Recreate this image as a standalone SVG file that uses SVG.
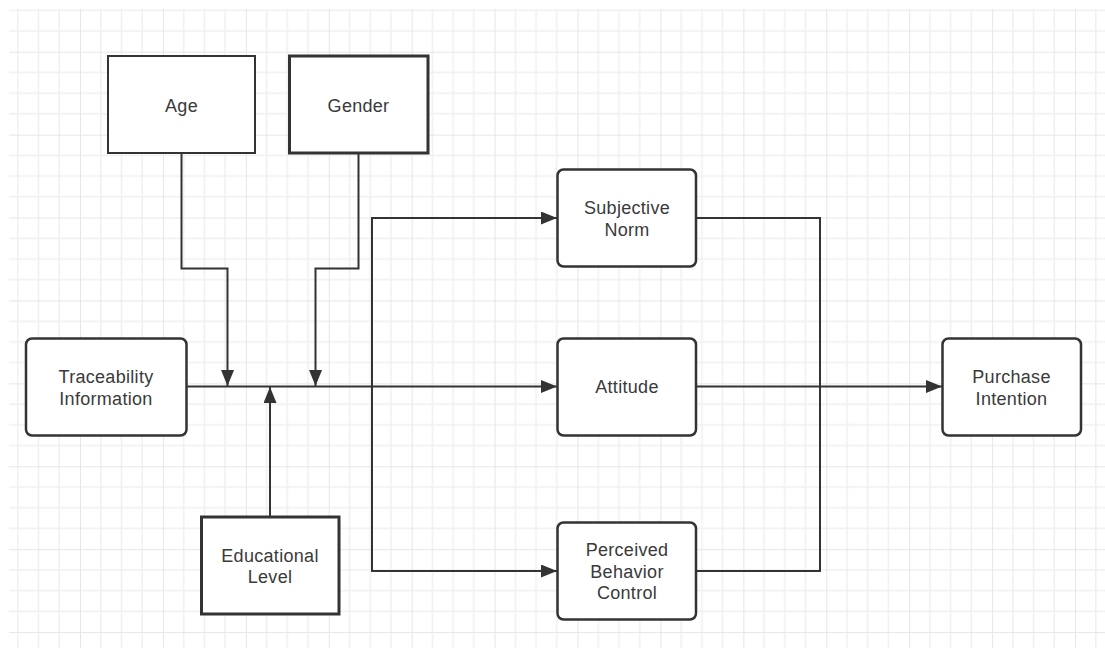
<svg xmlns="http://www.w3.org/2000/svg" width="1105" height="648" viewBox="0 0 1105 648">
  <defs>
    <pattern id="grid" patternUnits="userSpaceOnUse" x="80" y="51.7" width="82.92" height="82.92">
      <path d="M20.73 0V82.92M41.46 0V82.92M62.19 0V82.92M0 20.73H82.92M0 41.46H82.92M0 62.19H82.92" stroke="#f0f0f0" stroke-width="1.5" fill="none"/>
      <path d="M0 0V82.92M0 0H82.92" stroke="#e6e6e6" stroke-width="2" fill="none"/>
    </pattern>
    <marker id="arrow" viewBox="0 0 16 13" refX="16" refY="6.5" markerWidth="16" markerHeight="13" markerUnits="userSpaceOnUse" orient="auto">
      <path d="M0 0L16 6.5L0 13Z" fill="#333"/>
    </marker>
    <style>
      .box { fill: #ffffff; stroke: #333333; }
      .thin { stroke-width: 2; }
      .thick { stroke-width: 3; }
      .round { stroke-width: 2.5; }
      .label { font-family: "Liberation Sans", Arial, sans-serif; font-size: 18px; letter-spacing: 0.3px; fill: #3a3a3a; text-anchor: middle; }
      .conn { fill: none; stroke: #333333; stroke-width: 2; }
    </style>
  </defs>
  <rect x="0" y="0" width="1105" height="648" fill="#ffffff"/>
  <rect x="9" y="9" width="1096" height="639" fill="url(#grid)"/>

  <g id="connectors">
    <path class="conn" d="M186 386.5H557" marker-end="url(#arrow)"/>
    <path class="conn" d="M181.5 153V268.5H227.5V386" marker-end="url(#arrow)"/>
    <path class="conn" d="M358.5 153V268.5H315.5V386" marker-end="url(#arrow)"/>
    <path class="conn" d="M270 516V387" marker-end="url(#arrow)"/>
    <path class="conn" d="M372 386.5V218H557" marker-end="url(#arrow)"/>
    <path class="conn" d="M372 386.5V571H557" marker-end="url(#arrow)"/>
    <path class="conn" d="M696 218H820V571H696"/>
    <path class="conn" d="M696 386.5H942" marker-end="url(#arrow)"/>
  </g>

  <g id="age">
    <rect class="box thin" x="108" y="56" width="147" height="97"/>
    <text class="label" x="181.5" y="111.5">Age</text>
  </g>
  <g id="gender">
    <rect class="box thick" x="289.5" y="56" width="138.5" height="97"/>
    <text class="label" x="358.5" y="111.5">Gender</text>
  </g>
  <g id="traceability">
    <rect class="box round" x="26" y="338.5" width="160.5" height="97" rx="6"/>
    <text class="label" x="106" y="383">Traceability</text>
    <text class="label" x="106" y="404.5">Information</text>
  </g>
  <g id="educational">
    <rect class="box thick" x="201.5" y="517" width="137.5" height="97"/>
    <text class="label" x="270" y="561.5">Educational</text>
    <text class="label" x="270" y="583">Level</text>
  </g>
  <g id="subjective">
    <rect class="box round" x="557.5" y="169.5" width="138.5" height="97" rx="6"/>
    <text class="label" x="627" y="214">Subjective</text>
    <text class="label" x="627" y="235.5">Norm</text>
  </g>
  <g id="attitude">
    <rect class="box round" x="557.5" y="338.5" width="138.5" height="97" rx="6"/>
    <text class="label" x="627" y="392.5">Attitude</text>
  </g>
  <g id="pbc">
    <rect class="box round" x="557.5" y="522.5" width="138.5" height="97" rx="6"/>
    <text class="label" x="627" y="556">Perceived</text>
    <text class="label" x="627" y="577.5">Behavior</text>
    <text class="label" x="627" y="599">Control</text>
  </g>
  <g id="purchase">
    <rect class="box round" x="942.5" y="338.5" width="138.5" height="97" rx="6"/>
    <text class="label" x="1011.5" y="383">Purchase</text>
    <text class="label" x="1011.5" y="404.5">Intention</text>
  </g>
</svg>
